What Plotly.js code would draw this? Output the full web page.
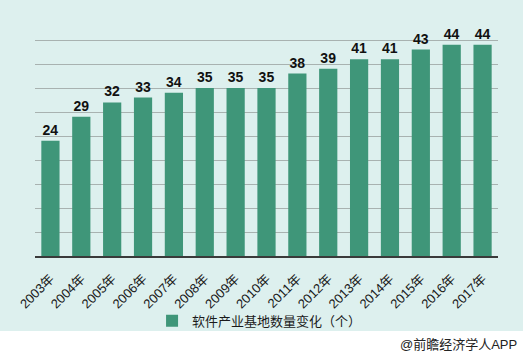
<!DOCTYPE html>
<html><head><meta charset="utf-8">
<script src="https://cdn.plot.ly/plotly-3.0.1.min.js"></script>
<style>html,body{margin:0;padding:0;background:#fff}#c{width:523px;height:355px}</style>
</head><body><div id="c"></div>
<script>
const years = ["2003年","2004年","2005年","2006年","2007年","2008年","2009年","2010年","2011年","2012年","2013年","2014年","2015年","2016年","2017年"];
const counts = [24,29,32,33,34,35,35,35,38,39,41,41,43,44,44];
const seriesName = "软件产业基地数量变化（个）";
const footer = "@前瞻经济学人APP";

const FONT = "Liberation Sans, Arial, Noto Sans CJK SC, sans-serif";
const trace = {
  type: "bar", x: years, y: counts, name: seriesName,
  marker: {color: "#3f9679"},
  text: counts.map(String), textposition: "outside", cliponaxis: false,
  textfont: {family: FONT, size: 14, color: "#111", weight: "bold"},
  showlegend: true
};
const layout = {
  width: 523, height: 355,
  margin: {l: 35, r: 25, t: 16, b: 99},
  paper_bgcolor: "#ffffff", plot_bgcolor: "rgba(0,0,0,0)",
  bargap: 0.41,
  font: {family: FONT, color: "#222"},
  xaxis: {tickangle: -45, tickfont: {size: 13, color: "#1a1a1a"}, ticklabelstandoff: 8, showline: true, linecolor: "#3a3a3a", linewidth: 2, ticks: "", showgrid: false},
  yaxis: {range: [0, 50], dtick: 5, showticklabels: false, gridcolor: "#a8b2b0", gridwidth: 1, zeroline: false, showline: false, ticks: ""},
  showlegend: true,
  legend: {orientation: "h", x: 0.485, xanchor: "center", y: -0.27, yanchor: "middle", font: {size: 13, color: "#1a1a1a"}, bgcolor: "rgba(0,0,0,0)"},
  shapes: [{type: "rect", xref: "paper", yref: "paper", x0: -0.1, x1: 1.1, y0: (256-331)/240, y1: 1.1, fillcolor: "#ddf0ee", line: {width: 0}, layer: "below"}],
  annotations: [{xref: "paper", yref: "paper", x: (519-35)/463, y: (256-344)/240, xanchor: "right", yanchor: "middle", text: footer, showarrow: false, font: {size: 13, color: "#222"}}]
};
Plotly.newPlot("c", [trace], layout, {displayModeBar: false, staticPlot: true});
</script></body></html>
